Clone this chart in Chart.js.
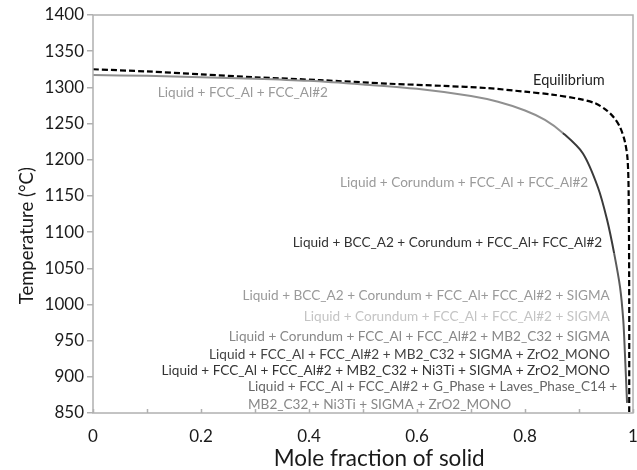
<!DOCTYPE html>
<html>
<head>
<meta charset="utf-8">
<script src="https://cdn.jsdelivr.net/npm/chart.js@4.4.1/dist/chart.umd.min.js"></script>
<style>
html,body{margin:0;padding:0;background:#fff;}
#wrap{width:637px;height:470px;}
</style>
</head>
<body>
<div id="wrap"><canvas id="c" width="637" height="470"></canvas></div>
<script>
// ---- data ----
const scheilFraction = [0, 0.1, 0.2, 0.3, 0.4, 0.5, 0.6, 0.7, 0.75, 0.8, 0.837, 0.87, 0.907, 0.935, 0.952, 0.965, 0.976, 0.982, 0.985, 0.989];
const scheilTemp     = [1317, 1316, 1314, 1312, 1309, 1304, 1298, 1288, 1280, 1268, 1255, 1237, 1209, 1162, 1117, 1071, 1024, 978, 933, 864];
const eqFraction = [0, 0.1, 0.2, 0.3, 0.42, 0.55, 0.65, 0.73, 0.8, 0.85, 0.9, 0.93, 0.95, 0.965, 0.976, 0.985, 0.99, 0.992, 0.993, 0.993];
const eqTemp     = [1325, 1322, 1318, 1314, 1310, 1305, 1302, 1299, 1294, 1290, 1284, 1278, 1269, 1258, 1245, 1225, 1200, 1150, 1000, 850];
const xTickLabels = ['0', '0.2', '0.4', '0.6', '0.8', '1'];
const xTitle = 'Mole fraction of solid';
const yTitle = 'Temperature (°C)';
const phaseLabels = [
  'Liquid + FCC_Al + FCC_Al#2',
  'Liquid + Corundum + FCC_Al + FCC_Al#2',
  'Liquid + BCC_A2 + Corundum + FCC_Al+ FCC_Al#2',
  'Liquid + BCC_A2 + Corundum + FCC_Al+ FCC_Al#2 + SIGMA',
  'Liquid + Corundum + FCC_Al + FCC_Al#2 + SIGMA',
  'Liquid + Corundum + FCC_Al + FCC_Al#2 + MB2_C32 + SIGMA',
  'Liquid + FCC_Al + FCC_Al#2 + MB2_C32 + SIGMA + ZrO2_MONO',
  'Liquid + FCC_Al + FCC_Al#2 + MB2_C32 + Ni3Ti + SIGMA + ZrO2_MONO',
  'Liquid + FCC_Al + FCC_Al#2 + G_Phase + Laves_Phase_C14 +',
  'MB2_C32 + Ni3Ti + SIGMA + ZrO2_MONO'
];
const equilibriumLabel = 'Equilibrium';

// ---- label placement (layout) ----
const labelPlacement = [
  {x: 0.12,  t: 1293, align: 'left',  color: '#9a9a9a'},
  {x: 0.917, t: 1169, align: 'right', color: '#9a9a9a'},
  {x: 0.943, t: 1086, align: 'right', color: '#333333'},
  {x: 0.957, t: 1012, align: 'right', color: '#9a9a9a'},
  {x: 0.957, t: 983,  align: 'right', color: '#c4c4c4'},
  {x: 0.957, t: 956,  align: 'right', color: '#888888'},
  {x: 0.957, t: 931,  align: 'right', color: '#444444'},
  {x: 0.957, t: 909,  align: 'right', color: '#333333'},
  {x: 0.287, t: 887,  align: 'left',  color: '#666666'},
  {x: 0.287, t: 861,  align: 'left',  color: '#888888'}
];
const FONT = 'Lato, "Open Sans", sans-serif';

const toPts = (xs, ys) => xs.map((x, i) => ({x: x, y: ys[i]}));

const boxPlugin = {
  id: 'box',
  afterDatasetsDraw(chart) {
    const ctx = chart.ctx, a = chart.chartArea;
    const xs = chart.scales.x, ys = chart.scales.y;
    ctx.save();
    ctx.strokeStyle = '#b0b0b0';
    ctx.lineWidth = 1.5;
    ctx.strokeRect(a.left, a.top, a.right - a.left, a.bottom - a.top);
    // inward x tick marks every 0.1
    ctx.beginPath();
    for (let v = 0; v <= 10; v++) {
      const px = Math.round(xs.getPixelForValue(v / 10)) + 0.5;
      ctx.moveTo(px, a.bottom);
      ctx.lineTo(px, a.bottom - 4);
    }
    ctx.stroke();
    // phase labels
    ctx.font = '13.6px ' + FONT;
    ctx.textBaseline = 'middle';
    phaseLabels.forEach((txt, i) => {
      const p = labelPlacement[i];
      ctx.fillStyle = p.color;
      ctx.textAlign = p.align;
      ctx.fillText(txt, xs.getPixelForValue(p.x), ys.getPixelForValue(p.t));
    });
    ctx.font = '14.5px ' + FONT;
    ctx.fillStyle = '#222';
    ctx.textAlign = 'left';
    ctx.fillText(equilibriumLabel, xs.getPixelForValue(0.815), ys.getPixelForValue(1310));
    // axis titles
    ctx.fillStyle = '#1a1a1a';
    ctx.textAlign = 'center';
    ctx.font = '22.5px ' + FONT;
    ctx.fillText(xTitle, xs.getPixelForValue(0.53), 459);
    ctx.translate(27, ys.getPixelForValue(1095));
    ctx.rotate(-Math.PI / 2);
    ctx.font = '18.5px ' + FONT;
    ctx.fillText(yTitle, 0, 0);
    ctx.restore();
  }
};

new Chart(document.getElementById('c'), {
  type: 'scatter',
  data: {
    datasets: [
      {
        label: 'Scheil',
        data: toPts(scheilFraction, scheilTemp),
        showLine: true,
        pointRadius: 0,
        borderWidth: 2,
        borderColor: '#909090',
        segment: {
          borderColor: ctx => {
            const t = ctx.p1.parsed.y;
            if (t > 1210) return '#909090';
            if (t > 1030) return '#3a3a3a';
            return '#5a5a5a';
          }
        },
        tension: 0.3
      },
      {
        label: 'Equilibrium',
        data: toPts(eqFraction, eqTemp),
        showLine: true,
        pointRadius: 0,
        borderWidth: 2.2,
        borderColor: '#000',
        borderDash: [6, 3],
        tension: 0.3
      }
    ]
  },
  options: {
    responsive: false,
    animation: false,
    layout: {padding: {left: 0, right: 4, top: 15, bottom: 0}},
    plugins: {legend: {display: false}, tooltip: {enabled: false}},
    scales: {
      x: {
        type: 'linear', min: 0, max: 1,
        afterFit(s) { s.height = 57; s.paddingLeft = 0; s.paddingRight = 0; },
        ticks: {
          stepSize: 0.1, autoSkip: false, maxRotation: 0, color: '#1a1a1a', padding: 5,
          font: {family: FONT, size: 17},
          callback: (v, i) => (i % 2 === 0 ? xTickLabels[i / 2] : '')
        },
        grid: {display: false},
        border: {display: false},
        title: {display: false}
      },
      y: {
        min: 850, max: 1400,
        afterFit(s) { s.width = 93; },
        ticks: {stepSize: 50, color: '#1a1a1a', padding: 3, font: {family: FONT, size: 17},
                callback: v => String(v)},
        grid: {drawOnChartArea: false, drawTicks: true, tickLength: 6, color: '#b0b0b0', lineWidth: 1.5},
        border: {display: false},
        title: {display: false}
      }
    }
  },
  plugins: [boxPlugin]
});
</script>
</body>
</html>
